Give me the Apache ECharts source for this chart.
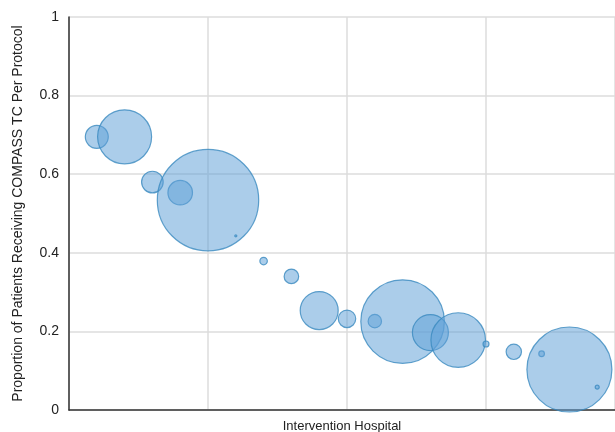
<!DOCTYPE html>
<html>
<head>
<meta charset="utf-8">
<script src="https://cdn.jsdelivr.net/npm/echarts@6/dist/echarts.min.js"></script>
<style>
  html, body { margin: 0; padding: 0; background: #fff; }
  #chart { width: 615px; height: 432px; }
</style>
</head>
<body>
<div id="chart"></div>
<script>
// Hospital index (1..19)
const hospitals = [1, 2, 3, 4, 5, 6, 7, 8, 9, 10, 11, 12, 13, 14, 15, 16, 17, 18, 19];
// Proportion of patients receiving COMPASS TC per protocol
const proportions = [0.695, 0.695, 0.580, 0.553, 0.534, 0.443, 0.379, 0.340, 0.253, 0.232,
                     0.226, 0.225, 0.197, 0.178, 0.168, 0.148, 0.143, 0.103, 0.058];
// Patients per hospital (bubble area)
const patients = [132, 729, 117, 151, 2570, 1, 14, 53, 361, 76,
                  45, 1747, 324, 745, 9, 59, 8, 1806, 4];
const yTicks = [0, 0.2, 0.4, 0.6, 0.8, 1];

const data = hospitals.map((h, i) => [h, proportions[i], patients[i]]);

const chart = echarts.init(document.getElementById('chart'), null, { renderer: 'canvas' });
chart.setOption({
  animation: false,
  grid: { left: 69, right: 0, top: 17, bottom: 22, containLabel: false, outerBoundsMode: 'none' },
  xAxis: {
    type: 'value',
    min: 0,
    max: 19.64,
    interval: 5,
    name: 'Intervention Hospital',
    nameLocation: 'middle',
    nameGap: 10,
    nameTextStyle: { fontFamily: 'Liberation Sans', fontSize: 13, color: '#222' },
    axisLine: { show: true, onZero: false, lineStyle: { color: '#333', width: 1.5 } },
    axisTick: { show: false },
    axisLabel: { show: false },
    splitLine: { show: true, lineStyle: { color: '#dcdcdc', width: 1.5 } }
  },
  yAxis: {
    type: 'value',
    min: 0,
    max: 1,
    interval: 0.2,
    name: 'Proportion of Patients Receiving COMPASS TC Per Protocol',
    nameLocation: 'middle',
    nameGap: 44,
    nameRotate: 90,
    nameTextStyle: { fontFamily: 'Liberation Sans', fontSize: 14, color: '#222' },
    axisLine: { show: true, lineStyle: { color: '#333', width: 1.5 } },
    axisTick: { show: false },
    axisLabel: {
      fontFamily: 'Liberation Sans', fontSize: 14, color: '#222', margin: 10,
      formatter: v => {
        const t = yTicks.find(x => Math.abs(x - v) < 1e-9);
        return t === undefined ? '' : String(t);
      }
    },
    splitLine: { show: true, lineStyle: { color: '#dcdcdc', width: 1.5 } }
  },
  series: [{
    type: 'scatter',
    data: data,
    symbolSize: d => 2 * Math.sqrt(d[2]),
    itemStyle: {
      color: 'rgba(95,160,215,0.66)',
      borderColor: '#3a8abf',
      borderWidth: 1.2
    }
  }]
});
</script>
</body>
</html>
